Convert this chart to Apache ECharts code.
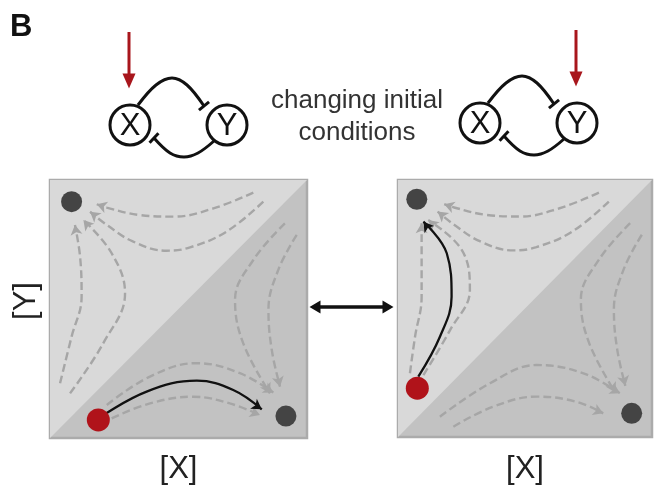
<!DOCTYPE html>
<html>
<head>
<meta charset="utf-8">
<script src="https://cdn.jsdelivr.net/npm/echarts@6/dist/echarts.min.js"></script>
<style>
  html, body { margin: 0; padding: 0; background: #fff; }
  #chart { width: 654px; height: 489px; }
</style>
</head>
<body>
<div id="chart"></div>
<script>
// ---- phase-plane panels (normalised [X], [Y] in 0..1) ----
const axisNameX = '[X]';
const axisNameY = '[Y]';

// flow lines shared by both panels: towards the high-[Y] corner (top) and high-[X] corner (right)
const flowTopOuter = [[0.791, 0.951], [0.636, 0.890], [0.480, 0.858], [0.350, 0.864], [0.221, 0.893], [0.182, 0.906]];
const flowTopInner = [[0.830, 0.916], [0.687, 0.800], [0.545, 0.739], [0.454, 0.726], [0.324, 0.761], [0.221, 0.826], [0.156, 0.877]];
const flowRightInner = [[0.914, 0.832], [0.791, 0.690], [0.720, 0.535], [0.752, 0.367], [0.856, 0.173]];
const flowRightOuter = [[0.960, 0.787], [0.888, 0.651], [0.850, 0.496], [0.863, 0.341], [0.895, 0.199]];

// left panel specific flow lines
const leftFlowLeftOuter = [[0.039, 0.212], [0.084, 0.393], [0.123, 0.548], [0.117, 0.703], [0.097, 0.826]];
const leftFlowLeftInner = [[0.078, 0.173], [0.207, 0.367], [0.292, 0.561], [0.240, 0.716], [0.130, 0.845]];
const leftFlowBottomUpper = [[0.221, 0.128], [0.389, 0.238], [0.571, 0.290], [0.739, 0.251], [0.869, 0.176]];
const leftFlowBottomLower = [[0.240, 0.076], [0.389, 0.134], [0.558, 0.160], [0.700, 0.134], [0.817, 0.089]];
const leftTrajectory = [[0.188, 0.076], [0.376, 0.180], [0.571, 0.222], [0.713, 0.186], [0.824, 0.111]];
const leftStable = [[0.084, 0.916], [0.918, 0.085]];
const leftStart = [[0.188, 0.070]];

// right panel specific flow lines
const rightFlowLeftOuter = [[0.047, 0.248], [0.067, 0.390], [0.093, 0.546], [0.093, 0.702], [0.093, 0.832]];
const rightFlowLeftInner = [[0.100, 0.241], [0.205, 0.416], [0.283, 0.572], [0.251, 0.728], [0.119, 0.844]];
const rightFlowBottomUpper = [[0.165, 0.079], [0.362, 0.209], [0.546, 0.280], [0.730, 0.248], [0.874, 0.170]];
const rightFlowBottomLower = [[0.218, 0.040], [0.375, 0.118], [0.546, 0.157], [0.703, 0.137], [0.808, 0.092]];
const rightTrajectory = [[0.080, 0.235], [0.165, 0.390], [0.211, 0.546], [0.192, 0.715], [0.100, 0.838]];
const rightStable = [[0.074, 0.925], [0.920, 0.092]];
const rightStart = [[0.076, 0.190]];

// separatrix (diagonal) splitting the two basins
const separatrix = [[0, 0], [1, 1]];

// ---- network motif (page-space units, y downwards) ----
const motifOrigins = [[130, 125], [480, 123]];          // centre of node X in each motif
const motifNodes = [['X', 0, 0], ['Y', 97, 0]];         // node label, offset from X
const motifUpperArc = [[8, -20], [26, -40], [42, -47], [57, -40], [74, -19]];
const motifLowerArc = [[84, 16], [68, 28], [54, 32], [40, 28], [24, 13]];
const inputArrowTargets = ['X', 'Y'];                   // node receiving the input in each motif
const inputArrowSpan = [-93, -44];                      // start / arrow-centre offsets above node
const caption = ['changing initial', 'conditions'];
const switchArrow = [[315, 307], [388, 307]];

const FONT = 'Liberation Sans, Arial, sans-serif';
const DASH_COLOR = '#a6a6a6';

function angleOf(p, q, yDown) {
  const dx = q[0] - p[0];
  const dy = yDown ? -(q[1] - p[1]) : (q[1] - p[1]);
  return Math.atan2(dy, dx) * 180 / Math.PI - 90;
}

// line series ending in an arrow head
function arrowed(points, idx, style) {
  const n = points.length;
  const data = points.map((p, i) => {
    if (i === n - 1) {
      return { value: p, symbol: style.head || 'arrow', symbolSize: style.headSize,
               symbolRotate: angleOf(points[n - 2], p, style.yDown) };
    }
    if (i === 0 && style.both) {
      return { value: p, symbol: style.head || 'arrow', symbolSize: style.headSize,
               symbolRotate: angleOf(points[1], p, style.yDown) };
    }
    return { value: p, symbol: 'none' };
  });
  return {
    type: 'line', xAxisIndex: idx, yAxisIndex: idx, data,
    smooth: style.smooth === undefined ? 0.4 : style.smooth,
    symbol: 'circle', showSymbol: true, z: style.z || 3,
    lineStyle: { color: style.color, width: style.width, type: style.dash ? [8, 4] : 'solid', cap: 'butt' },
    itemStyle: { color: style.color, opacity: 1 },
    emphasis: { disabled: true }, silent: true
  };
}

function plain(points, idx, style) {
  return {
    type: 'line', xAxisIndex: idx, yAxisIndex: idx, data: points,
    smooth: style.smooth || 0, symbol: 'none', z: style.z || 3,
    lineStyle: { color: style.color, width: style.width, cap: 'butt' },
    emphasis: { disabled: true }, silent: true
  };
}

function panelSeries(idx, flows, trajectory, stable, start) {
  const list = [];
  list.push({
    type: 'line', xAxisIndex: idx, yAxisIndex: idx, data: separatrix, symbol: 'none', z: 1,
    lineStyle: { width: 0 }, areaStyle: { origin: 'end', color: '#d9d9d9', opacity: 1 },
    emphasis: { disabled: true }, silent: true
  });
  flows.forEach(f => list.push(arrowed(f, idx, { color: DASH_COLOR, width: 2.4, dash: true, headSize: [9, 10] })));
  list.push(arrowed(trajectory, idx, { color: '#111', width: 2.3, headSize: [9, 10], z: 4 }));
  list.push({
    type: 'scatter', xAxisIndex: idx, yAxisIndex: idx, data: stable, symbolSize: 21, z: 5,
    itemStyle: { color: '#444444', opacity: 1 }, silent: true
  });
  list.push({
    type: 'scatter', xAxisIndex: idx, yAxisIndex: idx, data: start, symbolSize: 23, z: 6,
    itemStyle: { color: '#b0131a', opacity: 1 }, silent: true
  });
  return list;
}

const series = [];
series.push(...panelSeries(0,
  [flowTopOuter, flowTopInner, flowRightInner, flowRightOuter,
   leftFlowLeftOuter, leftFlowLeftInner, leftFlowBottomUpper, leftFlowBottomLower],
  leftTrajectory, leftStable, leftStart));
series.push(...panelSeries(1,
  [flowTopOuter, flowTopInner, flowRightInner, flowRightOuter,
   rightFlowLeftOuter, rightFlowLeftInner, rightFlowBottomUpper, rightFlowBottomLower],
  rightTrajectory, rightStable, rightStart));

// motifs: X ⊣ Y, Y ⊣ X with an input arrow
motifOrigins.forEach((o, m) => {
  const shift = pts => pts.map(p => [o[0] + p[0], o[1] + p[1]]);
  const upper = shift(motifUpperArc);
  const lower = shift(motifLowerArc);
  series.push(plain(upper, 2, { color: '#111', width: 3, smooth: 0.35 }));
  series.push(plain(lower, 2, { color: '#111', width: 3, smooth: 0.35 }));
  // inhibition bars perpendicular to the arc ends
  [upper, lower].forEach(arc => {
    const e = arc[arc.length - 1], p = arc[arc.length - 2];
    const dx = e[0] - p[0], dy = e[1] - p[1];
    const L = Math.hypot(dx, dy), h = 6.5;
    const nx = -dy / L * h, ny = dx / L * h;
    series.push(plain([[e[0] - nx, e[1] - ny], [e[0] + nx, e[1] + ny]], 2, { color: '#111', width: 3 }));
  });
  series.push({
    type: 'scatter', xAxisIndex: 2, yAxisIndex: 2, z: 5, symbolSize: 40,
    data: motifNodes.map(n => ({ name: n[0], value: [o[0] + n[1], o[1] + n[2]] })),
    itemStyle: { color: '#fff', borderColor: '#111', borderWidth: 3, opacity: 1 },
    label: { show: true, position: 'inside', formatter: '{b}', fontFamily: FONT, fontSize: 31, color: '#111', offset: [0, 1] },
    silent: true
  });
  const target = motifNodes.find(n => n[0] === inputArrowTargets[m]);
  const ax = o[0] + target[1] - 1;
  series.push(arrowed([[ax, o[1] + inputArrowSpan[0]], [ax, o[1] + inputArrowSpan[1]]], 2,
    { color: '#a8161c', width: 3, head: 'triangle', headSize: [13, 15], yDown: true, smooth: 0 }));
});

// switch between the two initial conditions
series.push(arrowed(switchArrow, 2, { color: '#111', width: 3.5, head: 'triangle', headSize: [13, 11], yDown: true, both: true, smooth: 0 }));

const hiddenAxis = { show: false };
const panelGrid = { show: true, backgroundColor: '#c2c2c2', borderColor: '#ababab', borderWidth: 2.5, z: 0, outerBoundsMode: 'none', containLabel: false };
const option = {
  animation: false,
  backgroundColor: '#ffffff',
  title: [
    { text: 'B', left: 5, top: 7, textStyle: { fontFamily: FONT, fontSize: 31, fontWeight: 'bold', color: '#111' } },
    { text: caption.join('\n'), left: 352, top: 80, textAlign: 'center',
      textStyle: { fontFamily: FONT, fontSize: 26, fontWeight: 'normal', color: '#333', lineHeight: 32 } }
  ],
  grid: [
    Object.assign({ left: 50, top: 180, width: 257, height: 258 }, panelGrid),
    Object.assign({ left: 398, top: 180, width: 254, height: 257 }, panelGrid),
    { left: 0, top: 0, right: 0, bottom: 0, outerBoundsMode: 'none', containLabel: false }
  ],
  xAxis: [
    { gridIndex: 0, type: 'value', min: 0, max: 1, name: axisNameX, nameLocation: 'middle', nameGap: 16,
      nameTextStyle: { fontFamily: FONT, fontSize: 31, color: '#222' },
      axisLine: { show: false }, axisTick: { show: false }, axisLabel: { show: false }, splitLine: { show: false } },
    { gridIndex: 1, type: 'value', min: 0, max: 1, name: axisNameX, nameLocation: 'middle', nameGap: 17,
      nameTextStyle: { fontFamily: FONT, fontSize: 31, color: '#222' },
      axisLine: { show: false }, axisTick: { show: false }, axisLabel: { show: false }, splitLine: { show: false } },
    Object.assign({ gridIndex: 2, type: 'value', min: 0, max: 654 }, hiddenAxis)
  ],
  yAxis: [
    { gridIndex: 0, type: 'value', min: 0, max: 1, name: axisNameY, nameLocation: 'middle', nameGap: 8, nameRotate: 90,
      nameTextStyle: { fontFamily: FONT, fontSize: 31, color: '#222', padding: [0, 0, 0, 16] },
      axisLine: { show: false }, axisTick: { show: false }, axisLabel: { show: false }, splitLine: { show: false } },
    { gridIndex: 1, type: 'value', min: 0, max: 1,
      axisLine: { show: false }, axisTick: { show: false }, axisLabel: { show: false }, splitLine: { show: false } },
    Object.assign({ gridIndex: 2, type: 'value', min: 0, max: 489, inverse: true }, hiddenAxis)
  ],
  series
};

const chart = echarts.init(document.getElementById('chart'), null, { renderer: 'canvas' });
chart.setOption(option);
</script>
</body>
</html>
